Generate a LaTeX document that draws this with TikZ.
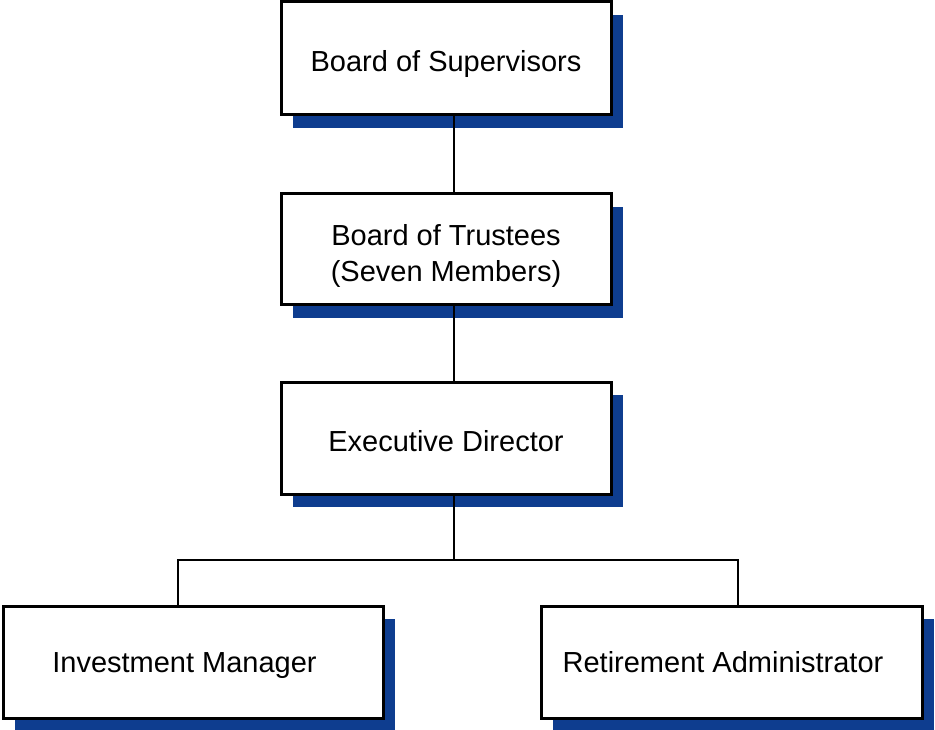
\documentclass[tikz,border=0pt]{standalone}
\usepackage{fontspec}
\setmainfont{Liberation Sans}
\usetikzlibrary{shadows}
\definecolor{shadowblue}{RGB}{14,61,143}
\tikzset{
  orgbox/.style={draw=black, line width=3pt, fill=white, rectangle, inner sep=0pt,
    align=center, font=\fontsize{29}{36}\selectfont,
    general shadow={fill=shadowblue, shadow xshift=12pt, shadow yshift=-13pt}},
  link/.style={draw=black, line width=2.6pt}
}
\begin{document}
\begin{tikzpicture}[x=1pt,y=-1pt]
\clip (0,0) rectangle (935,730);
\fill[white] (0,0) rectangle (935,730);
\node[orgbox, minimum width=330pt, minimum height=113pt] (bos) at (446,58.5) {\raisebox{-13pt}[0pt][0pt]{Board of Supervisors}};
\node[orgbox, minimum width=330pt, minimum height=111pt] (bot) at (446,249.5) {\raisebox{4pt}[0pt][0pt]{\begin{tabular}[t]{@{}c@{}}Board of Trustees\\(Seven Members)\end{tabular}}};
\node[orgbox, minimum width=330pt, minimum height=112pt] (ed) at (446,438) {\raisebox{-13pt}[0pt][0pt]{Executive Director}};
\node[orgbox, minimum width=380pt, minimum height=112pt] (im) at (193,662) {\raisebox{-10pt}[0pt][0pt]{Investment Manager}\hspace*{17pt}};
\node[orgbox, minimum width=381pt, minimum height=112pt] (ra) at (731.5,662) {\raisebox{-10pt}[0pt][0pt]{Retirement Administrator}\hspace*{17pt}};
\coordinate (j) at (454,560);
\draw[link] (bos.south -| j) -- (bot.north -| j);
\draw[link] (bot.south -| j) -- (ed.north -| j);
\draw[link] (ed.south -| j) -- (j);
\draw[link] (im.north -| 178,0) |- (j) -| (ra.north -| 738,0);
\end{tikzpicture}
\end{document}
